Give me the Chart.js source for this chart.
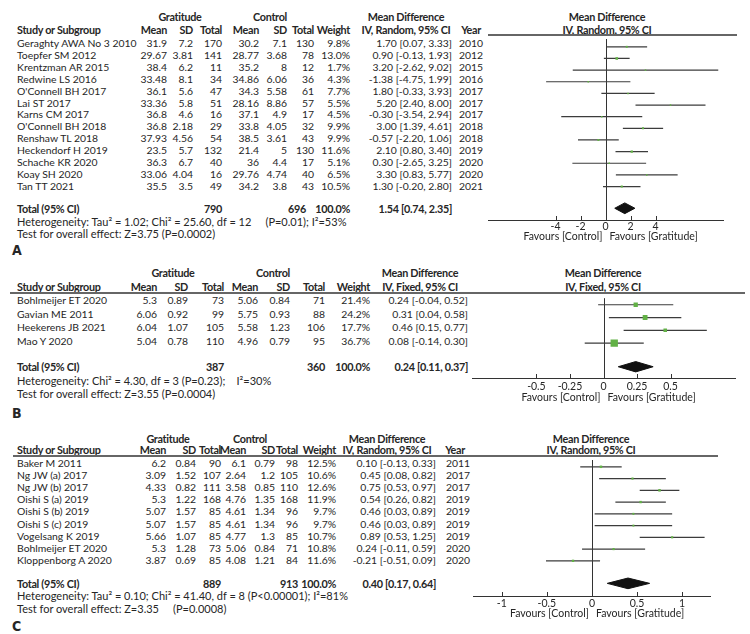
<!DOCTYPE html>
<html>
<head>
<meta charset="utf-8">
<title>Gratitude vs Control - forest plots</title>
<script src="https://cdn.jsdelivr.net/npm/chart.js@4.4.1/dist/chart.umd.min.js"></script>
<style>
  html, body { margin: 0; padding: 0; background: #fff; }
  #page { position: relative; width: 750px; height: 634px; overflow: hidden;
          font-family: Lato, 'Open Sans', sans-serif; font-size: 10.4px; color: #262626; }
  .t { position: absolute; white-space: pre; line-height: 13px; }
  .b { font-weight: bold; font-size: 10.8px; letter-spacing: -0.3px; }
  .note { font-size: 11px; }
  .rule { position: absolute; height: 0; border-top: 2px solid #666; }
  .letter { position: absolute; font-family: 'DejaVu Sans Condensed', Lato, sans-serif;
            font-weight: bold; font-size: 14px; transform: translateY(-50%); }
  canvas { position: absolute; }
</style>
</head>
<body>
<div id="page"></div>
<script>
// ---------- Panel A : IV, Random ----------
const studiesA = ['Geraghty AWA No 3 2010', 'Toepfer SM 2012', 'Krentzman AR 2015', 'Redwine LS 2016',
  "O'Connell BH 2017", 'Lai ST 2017', 'Karns CM 2017', "O'Connell BH 2018", 'Renshaw TL 2018',
  'Heckendorf H 2019', 'Schache KR 2020', 'Koay SH 2020', 'Tan TT 2021'];
const gMeanA = [31.9, 29.67, 38.4, 33.48, 36.1, 33.36, 36.8, 36.8, 37.93, 23.5, 36.3, 33.06, 35.5];
const gSdA = [7.2, 3.81, 6.2, 8.1, 5.6, 5.8, 4.6, 2.18, 4.56, 5.7, 6.7, 4.04, 3.5];
const gNA = [170, 141, 11, 34, 47, 51, 16, 29, 54, 132, 40, 16, 49];
const cMeanA = [30.2, 28.77, 35.2, 34.86, 34.3, 28.16, 37.1, 33.8, 38.5, 21.4, 36, 29.76, 34.2];
const cSdA = [7.1, 3.68, 8, 6.06, 5.58, 8.86, 4.9, 4.05, 3.61, 5, 4.4, 4.74, 3.8];
const cNA = [130, 78, 12, 36, 61, 57, 17, 32, 43, 130, 17, 40, 43];
const weightA = [9.8, 13.0, 1.7, 4.3, 7.7, 5.5, 4.5, 9.9, 9.9, 11.6, 5.1, 6.5, 10.5];
const mdA = [1.70, 0.90, 3.20, -1.38, 1.80, 5.20, -0.30, 3.00, -0.57, 2.10, 0.30, 3.30, 1.30];
const loA = [0.07, -0.13, -2.62, -4.75, -0.33, 2.40, -3.54, 1.39, -2.20, 0.80, -2.65, 0.83, -0.20];
const hiA = [3.33, 1.93, 9.02, 1.99, 3.93, 8.00, 2.94, 4.61, 1.06, 3.40, 3.25, 5.77, 2.80];
const yearA = [2010, 2012, 2015, 2016, 2017, 2017, 2017, 2018, 2018, 2019, 2020, 2020, 2021];
const totalA = [1.54, 0.74, 2.35];
const totalNA = [790, 696];
const ticksA = [-4, -2, 0, 2, 4];
const tickLabelsA = ['-4', '-2', '0', '2', '4'];

// ---------- Panel B : IV, Fixed ----------
const studiesB = ['Bohlmeijer ET 2020', 'Gavian ME 2011', 'Heekerens JB 2021', 'Mao Y 2020'];
const gMeanB = [5.3, 6.06, 6.04, 5.04];
const gSdB = [0.89, 0.92, 1.07, 0.78];
const gNB = [73, 99, 105, 110];
const cMeanB = [5.06, 5.75, 5.58, 4.96];
const cSdB = [0.84, 0.93, 1.23, 0.79];
const cNB = [71, 88, 106, 95];
const weightB = [21.4, 24.2, 17.7, 36.7];
const mdB = [0.24, 0.31, 0.46, 0.08];
const loB = [-0.04, 0.04, 0.15, -0.14];
const hiB = [0.52, 0.58, 0.77, 0.30];
const totalB = [0.24, 0.11, 0.37];
const totalNB = [387, 360];
const ticksB = [-0.5, -0.25, 0, 0.25, 0.5];
const tickLabelsB = ['-0.5', '-0.25', '0', '0.25', '0.5'];

// ---------- Panel C : IV, Random ----------
const studiesC = ['Baker M 2011', 'Ng JW (a) 2017', 'Ng JW (b) 2017', 'Oishi S (a) 2019', 'Oishi S (b) 2019',
  'Oishi S (c) 2019', 'Vogelsang K 2019', 'Bohlmeijer ET 2020', 'Kloppenborg A 2020'];
const gMeanC = [6.2, 3.09, 4.33, 5.3, 5.07, 5.07, 5.66, 5.3, 3.87];
const gSdC = [0.84, 1.52, 0.82, 1.22, 1.57, 1.57, 1.07, 1.28, 0.69];
const gNC = [90, 107, 111, 168, 85, 85, 85, 73, 85];
const cMeanC = [6.1, 2.64, 3.58, 4.76, 4.61, 4.61, 4.77, 5.06, 4.08];
const cSdC = [0.79, 1.2, 0.85, 1.35, 1.34, 1.34, 1.3, 0.84, 1.21];
const cNC = [98, 105, 110, 168, 96, 96, 85, 71, 84];
const weightC = [12.5, 10.6, 12.6, 11.9, 9.7, 9.7, 10.7, 10.8, 11.6];
const mdC = [0.10, 0.45, 0.75, 0.54, 0.46, 0.46, 0.89, 0.24, -0.21];
const loC = [-0.13, 0.08, 0.53, 0.26, 0.03, 0.03, 0.53, -0.11, -0.51];
const hiC = [0.33, 0.82, 0.97, 0.82, 0.89, 0.89, 1.25, 0.59, 0.09];
const yearC = [2011, 2017, 2017, 2019, 2019, 2019, 2019, 2020, 2020];
const totalC = [0.40, 0.17, 0.64];
const totalNC = [889, 913];
const ticksC = [-1, -0.5, 0, 0.5, 1];
const tickLabelsC = ['-1', '-0.5', '0', '0.5', '1'];

const page = document.getElementById('page');

// place one piece of text, y is the vertical centre
function put(x, y, text, align, cls) {
    const el = document.createElement('div');
    el.className = 't' + (cls ? ' ' + cls : '');
    el.textContent = text;
    el.style.left = x + 'px';
    el.style.top = y + 'px';
    const tx = align === 'r' ? '-100%' : align === 'c' ? '-50%' : '0';
    el.style.transform = 'translate(' + tx + ', -50%)';
    page.appendChild(el);
}

function rule(x1, y, x2) {
    const el = document.createElement('div');
    el.className = 'rule';
    el.style.left = x1 + 'px';
    el.style.top = (y - 1) + 'px';
    el.style.width = (x2 - x1) + 'px';
    page.appendChild(el);
}

const fmt = v => v.toFixed(2);
const ciText = (m, l, h) => fmt(m) + ' [' + fmt(l) + ', ' + fmt(h) + ']';

// table part of one forest plot
function table(d, L) {
    const c = L.cols;
    put(L.grpG, L.head1, 'Gratitude', 'c', 'b');
    put(L.grpC, L.head1, 'Control', 'c', 'b');
    put(L.mdHead, L.head1, 'Mean Difference', 'c', 'b');
    put(L.plotHead, L.head1, 'Mean Difference', 'c', 'b');
    put(c.name, L.head2, 'Study or Subgroup', 'l', 'b');
    put(c.gMean, L.head2, 'Mean', 'r', 'b');
    put(c.gSd, L.head2, 'SD', 'r', 'b');
    put(c.gN, L.head2, 'Total', 'r', 'b');
    put(c.cMean, L.head2, 'Mean', 'r', 'b');
    put(c.cSd, L.head2, 'SD', 'r', 'b');
    put(c.cN, L.head2, 'Total', 'r', 'b');
    put(c.weight, L.head2, 'Weight', 'r', 'b');
    put(L.mdHead, L.head2, d.method, 'c', 'b');
    put(L.plotHead, L.head2, d.method, 'c', 'b');
    if (d.year) put(L.yearHead, L.head2, 'Year', 'r', 'b');

    d.studies.forEach((s, i) => {
        const y = L.row0 + i * L.step;
        put(c.name, y, s, 'l');
        put(c.gMean, y, String(d.gMean[i]), 'r');
        put(c.gSd, y, String(d.gSd[i]), 'r');
        put(c.gN, y, String(d.gN[i]), 'r');
        put(c.cMean, y, String(d.cMean[i]), 'r');
        put(c.cSd, y, String(d.cSd[i]), 'r');
        put(c.cN, y, String(d.cN[i]), 'r');
        put(c.weight, y, d.weight[i].toFixed(1) + '%', 'r');
        put(c.ci, y, ciText(d.md[i], d.lo[i], d.hi[i]), 'r');
        if (d.year) put(c.year, y, String(d.year[i]), 'l');
    });

    put(c.name, L.total, 'Total (95% CI)', 'l', 'b');
    put(c.gN, L.total, String(d.totalN[0]), 'r', 'b');
    put(L.totCN || c.cN, L.total, String(d.totalN[1]), 'r', 'b');
    put(c.weight, L.total, '100.0%', 'r', 'b');
    put(c.ci, L.total, ciText(d.total[0], d.total[1], d.total[2]), 'r', 'b');
    put(c.name, L.het, d.het, 'l', 'note');
    put(c.name, L.test, d.test, 'l', 'note');

    const lt = document.createElement('div');
    lt.className = 'letter';
    lt.textContent = d.letter;
    lt.style.left = '12px';
    lt.style.top = L.letter + 'px';
    page.appendChild(lt);

    rule(L.rule[0], L.top, L.rule[1]);
}

// zero line, tick marks crossing the axis and the "Favours" captions
const forestExtras = {
    id: 'forestExtras',
    beforeDatasetsDraw(chart) {
        const { ctx, chartArea: a, scales: { x } } = chart;
        const x0 = Math.round(x.getPixelForValue(0)) + 0.5;
        ctx.save();
        ctx.strokeStyle = '#333';
        ctx.lineWidth = 1;
        ctx.beginPath();
        ctx.moveTo(x0, a.top);
        ctx.lineTo(x0, a.bottom);
        x.ticks.forEach(t => {
            const px = Math.round(x.getPixelForValue(t.value)) + 0.5;
            ctx.moveTo(px, a.bottom - 4);
            ctx.lineTo(px, a.bottom + 1);
        });
        ctx.stroke();
        ctx.restore();
    },
    afterDraw(chart, args, opts) {
        const { ctx, chartArea: a, scales: { x } } = chart;
        const x0 = x.getPixelForValue(0);
        ctx.save();
        ctx.fillStyle = '#262626';
        ctx.font = '10.5px Lato, sans-serif';
        ctx.textBaseline = 'middle';
        ctx.textAlign = 'right';
        ctx.fillText('Favours [Control]', x0 - 3, a.bottom + opts.favY);
        ctx.textAlign = 'left';
        ctx.fillText('Favours [Gratitude]', x0 + 4, a.bottom + opts.favY);
        ctx.restore();
    }
};

// plot part of one forest plot
function forest(d, L) {
    const cv = document.createElement('canvas');
    cv.width = 750 - L.canvasLeft;
    cv.height = L.axis - L.top + 30;
    cv.style.left = L.canvasLeft + 'px';
    cv.style.top = L.top + 'px';
    page.appendChild(cv);

    const yMin = -(L.row0 - L.top) / L.step;
    const yMax = yMin + (L.axis - L.top) / L.step;
    const yTot = yMin + (L.total - L.top) / L.step;
    const h = 5.5 / L.step;

    const ci = [];
    d.md.forEach((m, i) => {
        ci.push({ x: d.lo[i], y: i }, { x: d.hi[i], y: i }, { x: null, y: null });
    });
    const marks = d.md.map((m, i) => ({ x: m, y: i }));
    const [est, tlo, thi] = d.total;

    new Chart(cv, {
        type: 'line',
        data: {
            datasets: [
                {
                    data: marks, showLine: false, pointStyle: 'rect',
                    pointRadius: d.weight.map(w => Math.max(1.5, 0.2 * w) / Math.SQRT2),
                    pointBackgroundColor: '#62b146', pointBorderWidth: 0, order: 0
                },
                { data: ci, borderColor: '#3c3c3c', borderWidth: 1.2, pointRadius: 0, spanGaps: false, order: 1 },
                {
                    data: [{ x: tlo, y: yTot }, { x: est, y: yTot - h }, { x: thi, y: yTot }],
                    borderColor: '#111', borderWidth: 1, pointRadius: 0, fill: '+1', backgroundColor: '#111', order: 1
                },
                {
                    data: [{ x: tlo, y: yTot }, { x: est, y: yTot + h }, { x: thi, y: yTot }],
                    borderColor: '#111', borderWidth: 1, pointRadius: 0, fill: false, order: 1
                }
            ]
        },
        options: {
            responsive: false,
            animation: false,
            events: [],
            layout: { padding: { left: L.padL, right: cv.width - L.padL - L.plotW, top: 0, bottom: 0 } },
            plugins: {
                legend: { display: false },
                tooltip: { enabled: false },
                forestExtras: { favY: L.favY }
            },
            scales: {
                x: {
                    type: 'linear', min: L.xMin, max: L.xMax,
                    afterBuildTicks: s => { s.ticks = d.ticks.map(v => ({ value: v })); },
                    afterFit: s => { s.height = 30; },
                    grid: { drawOnChartArea: false, drawTicks: false },
                    border: { display: true, color: '#333', width: 1 },
                    ticks: {
                        autoSkip: false, maxRotation: 0, padding: L.tickPad, color: '#262626',
                        font: { family: 'Lato', size: 10.5 },
                        callback: (v, i) => d.tickLabels[i]
                    }
                },
                y: { type: 'linear', display: false, reverse: true, min: yMin, max: yMax }
            }
        },
        plugins: [forestExtras]
    });
}

const panelA = {
    letter: 'A', method: 'IV, Random, 95% CI', studies: studiesA, gMean: gMeanA, gSd: gSdA, gN: gNA,
    cMean: cMeanA, cSd: cSdA, cN: cNA, weight: weightA, md: mdA, lo: loA, hi: hiA, year: yearA,
    total: totalA, totalN: totalNA, ticks: ticksA, tickLabels: tickLabelsA,
    het: 'Heterogeneity: Tau\u00b2 = 1.02; Chi\u00b2 = 25.60, df = 12     (P=0.01); I\u00b2=53%',
    test: 'Test for overall effect: Z=3.75 (P=0.0002)'
};
const layoutA = {
    head1: 16, head2: 29, top: 35, row0: 43, step: 11.9, total: 208, het: 220.5, test: 233, letter: 250,
    cols: { name: 17, gMean: 167, gSd: 193, gN: 222, cMean: 259, cSd: 287, cN: 314, weight: 350, ci: 452, year: 459 },
    totCN: 306,
    grpG: 180, grpC: 270, mdHead: 406, plotHead: 607, yearHead: 481, rule: [488, 737],
    canvasLeft: 470, padL: 18, plotW: 235, axis: 220, xMin: -9.4, xMax: 9.4, tickPad: 0, favY: 17
};

const panelB = {
    letter: 'B', method: 'IV, Fixed, 95% CI', studies: studiesB, gMean: gMeanB, gSd: gSdB, gN: gNB,
    cMean: cMeanB, cSd: cSdB, cN: cNB, weight: weightB, md: mdB, lo: loB, hi: hiB, year: null,
    total: totalB, totalN: totalNB, ticks: ticksB, tickLabels: tickLabelsB,
    het: 'Heterogeneity: Chi\u00b2 = 4.30, df = 3 (P=0.23);    I\u00b2=30%',
    test: 'Test for overall effect: Z=3.55 (P=0.0004)'
};
const layoutB = {
    head1: 272, head2: 286, top: 293, row0: 300, step: 13.6, total: 366, het: 380, test: 393, letter: 413,
    cols: { name: 17, gMean: 157, gSd: 188, gN: 224, cMean: 258, cSd: 290, cN: 325, weight: 370, ci: 468 },
    grpG: 173, grpC: 273, mdHead: 420, plotHead: 603, rule: [10, 745],
    canvasLeft: 460, padL: 12, plotW: 263, axis: 378, xMin: -0.98, xMax: 0.98, tickPad: 2, favY: 20
};

const panelC = {
    letter: 'C', method: 'IV, Random, 95% CI', studies: studiesC, gMean: gMeanC, gSd: gSdC, gN: gNC,
    cMean: cMeanC, cSd: cSdC, cN: cNC, weight: weightC, md: mdC, lo: loC, hi: hiC, year: yearC,
    total: totalC, totalN: totalNC, ticks: ticksC, tickLabels: tickLabelsC,
    het: 'Heterogeneity: Tau\u00b2 = 0.10; Chi\u00b2 = 41.40, df = 8 (P<0.00001); I\u00b2=81%',
    test: 'Test for overall effect: Z=3.35     (P=0.0008)'
};
const layoutC = {
    head1: 438, head2: 449, top: 456, row0: 463, step: 12.1, total: 583, het: 595, test: 608, letter: 626,
    cols: { name: 17, gMean: 166, gSd: 196, gN: 221, cMean: 246, cSd: 275, cN: 298, weight: 336, ci: 436, year: 446 },
    grpG: 168, grpC: 250, mdHead: 387, plotHead: 591, yearHead: 465, rule: [13, 718],
    canvasLeft: 460, padL: 13, plotW: 237, axis: 596, xMin: -1.32, xMax: 1.31, tickPad: 1, favY: 18
};

[[panelA, layoutA], [panelB, layoutB], [panelC, layoutC]].forEach(([d, L]) => {
    table(d, L);
    forest(d, L);
});
</script>
</body>
</html>
